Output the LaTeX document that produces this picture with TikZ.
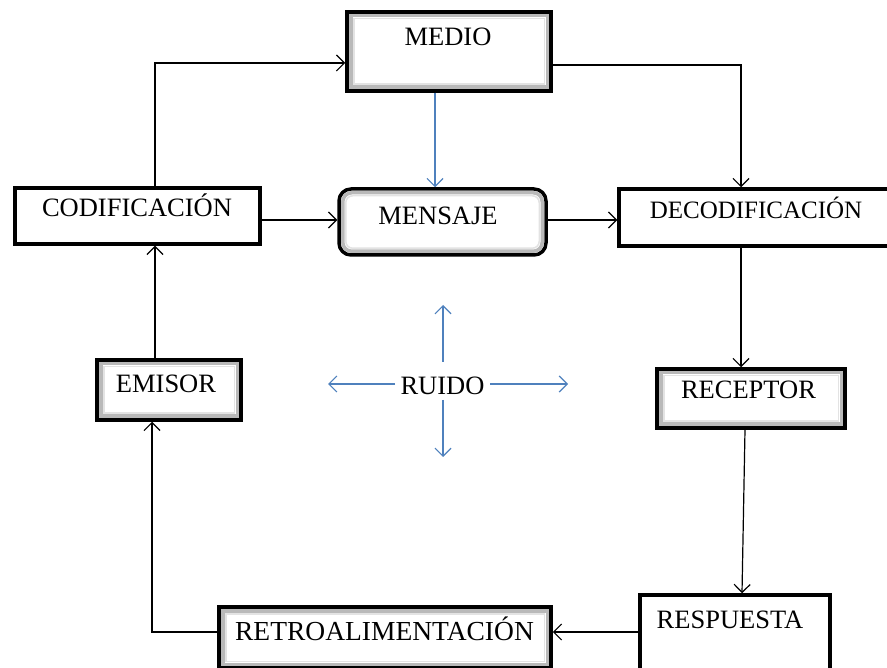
\documentclass[tikz,border=0pt]{standalone}
\usepackage{fontspec}
\setmainfont{Liberation Serif}
\usetikzlibrary{arrows.meta,fit}
\definecolor{ruidoblue}{RGB}{79,129,189}
\begin{document}
\begin{tikzpicture}[x=1pt,y=-1pt,
  box/.style={draw=black, line width=3.5pt, inner sep=0pt, fill=white},
  conn/.style={draw=black, line width=1.2pt, -{Straight Barb[length=8pt,width=16pt]}},
  noise/.style={draw=ruidoblue, line width=1.2pt, -{Straight Barb[length=8pt,width=16pt]}},
  lbl/.style={font=\fontsize{26.5}{30}\selectfont, anchor=base, inner sep=0pt},
  bevel/.style={draw=gray!55, line width=3.5pt},
  bevelin/.style={draw=gray!22, line width=1.5pt}]
\useasboundingbox (0,0) rectangle (887,668);

% boxes
\node[box, fit={(347,12) (551,91)}] (medio) {};
\node[box, rounded corners=12pt, fit={(339,189) (546,255)}] (mensaje) {};
\node[box, fit={(15,188) (260,244)}] (cod) {};
\node[box, fit={(619,189) (892,246)}] (decod) {};
\node[box, fit={(97,360) (241,420)}] (emisor) {};
\node[box, fit={(657,369) (845,428)}] (receptor) {};
\node[box, fit={(219,607) (551,668)}] (retro) {};
\node[box, fit={(640,595) (830,672)}] (resp) {};

% bevel frames
\foreach \n in {medio,emisor,receptor,retro}{
  \draw[bevel] ([shift={(5.5pt,-5.5pt)}]\n.north west) rectangle ([shift={(-5.5pt,5.5pt)}]\n.south east);
  \draw[bevelin] ([shift={(8.5pt,-8.5pt)}]\n.north west) rectangle ([shift={(-8.5pt,8.5pt)}]\n.south east);
}
\draw[bevel, rounded corners=9pt] ([shift={(5.5pt,-5.5pt)}]mensaje.north west) rectangle ([shift={(-5.5pt,5.5pt)}]mensaje.south east);
\draw[bevelin, rounded corners=7pt] ([shift={(8.5pt,-8.5pt)}]mensaje.north west) rectangle ([shift={(-8.5pt,8.5pt)}]mensaje.south east);

% labels
\node[lbl] (medio-t) at (448,45.5) {MEDIO};
\node[lbl] (mensaje-t) at (438,225) {MENSAJE};
\node[lbl] (cod-t) at (137,217) {CODIFICACIÓN};
\node[lbl, font=\fontsize{25}{30}\selectfont] (decod-t) at (756,219) {DECODIFICACIÓN};
\node[lbl] (emisor-t) at (166,393) {EMISOR};
\node[lbl] (receptor-t) at (748.5,399) {RECEPTOR};
\node[lbl, font=\fontsize{27.5}{30}\selectfont] (retro-t) at (384.5,640) {RETROALIMENTACIÓN};
\node[lbl] (resp-t) at (730,628) {RESPUESTA};
\node[lbl] (ruido) at (442.5,395) {RUIDO};

% connectors
\draw[conn] ([xshift=17.5pt]cod.north) |- ([yshift=-11.5pt]medio.west);
\draw[conn] ([yshift=-13.5pt]medio.east) -| ([xshift=-14.5pt]decod.north);
\draw[noise] ([xshift=-14pt]medio.south) -- ([xshift=-14pt]medio.south |- mensaje.north);
\draw[conn] ([yshift=-4pt]cod.east) -- ([yshift=-4pt]cod.east -| mensaje.west);
\draw[conn] ([yshift=2pt]mensaje.east) -- ([yshift=2pt]mensaje.east -| decod.west);
\draw[conn] ([xshift=-14.5pt]decod.south) -- ([xshift=-14.5pt]decod.south |- receptor.north);
\draw[conn] ([xshift=-6pt]receptor.south) -- ([xshift=7pt]resp.north);
\draw[conn] ([yshift=1.5pt]resp.west) -- ([yshift=1.5pt]resp.west -| retro.east);
\draw[conn] ([yshift=5.5pt]retro.west) -| ([xshift=-17pt]emisor.south);
\draw[conn] ([xshift=-14pt]emisor.north) -- ([xshift=-14pt]emisor.north |- cod.south);

% ruido arrows
\coordinate (ru-s) at (443,362);
\coordinate (ru-e) at (443,305);
\coordinate (rd-s) at (443,400);
\coordinate (rd-e) at (443,457);
\coordinate (rl-s) at (395,384);
\coordinate (rl-e) at (328,384);
\coordinate (rr-s) at (490,384);
\coordinate (rr-e) at (568,384);
\draw[noise] (ru-s) -- (ru-e);
\draw[noise] (rd-s) -- (rd-e);
\draw[noise] (rl-s) -- (rl-e);
\draw[noise] (rr-s) -- (rr-e);
\end{tikzpicture}
\end{document}
